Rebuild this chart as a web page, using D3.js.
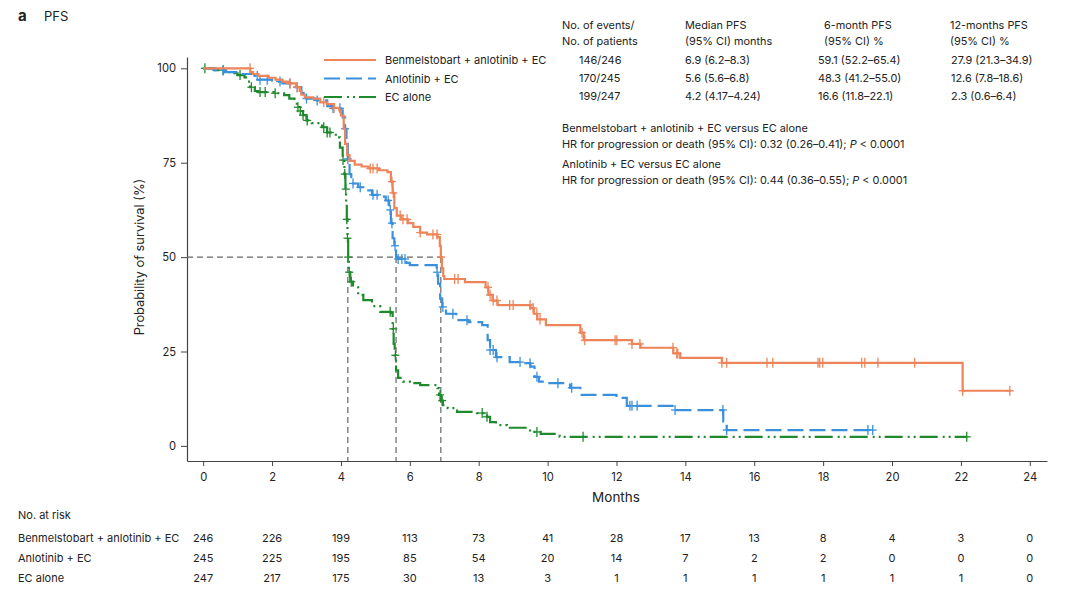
<!DOCTYPE html>
<html lang="en">
<head>
<meta charset="UTF-8">
<title>PFS</title>
<script src="https://d3js.org/d3.v7.min.js"></script>
<style>
  body { margin: 0; background: #fff; }
  text { font-family: "Inter", "Noto Sans", sans-serif; fill: #222; }
</style>
</head>
<body>
<script>
// ---- data ----
const groups = ["Benmelstobart + anlotinib + EC", "Anlotinib + EC", "EC alone"];
const colors = ["#EE8459", "#3A90DC", "#1F8A2C"];

// step points [month, survival %]
const stepsBena = [[0,100],[1.37,99],[1.45,98.5],[1.6,98],[1.9,97.5],[2.1,97],[2.3,96.5],[2.5,96],[2.7,95],
  [2.8,94],[2.85,93],[2.95,92.3],[3.2,92],[3.4,91],[3.6,90.5],[3.8,89.5],[3.95,88.9],[4.0,87.5],[4.08,84],
  [4.12,80],[4.18,77],[4.25,75.5],[4.4,74.5],[4.6,74],[4.8,73.5],[5.1,73],[5.35,72.5],[5.45,70],[5.5,67],
  [5.55,63],[5.62,61],[5.75,60],[5.95,59],[6.1,58],[6.3,56.5],[6.5,56],[6.8,55.3],[6.87,53],[6.9,50],
  [6.93,47],[6.97,45],[7.0,44.2],[7.6,43.4],[8.2,42],[8.28,40],[8.4,38.5],[8.55,37.3],[9.5,36.5],[9.6,35],
  [9.7,33.5],[9.95,32],[10.95,30],[11.05,28],[12.45,27],[12.7,26],[13.65,24.5],[13.85,23.3],[15.06,22],
  [22.05,14.6],[23.45,14.6]];
const stepsAnlo = [[0,100],[0.3,99.5],[0.6,99],[1.0,98.5],[1.5,98],[1.6,97],[2.0,96.5],[2.3,96],[2.6,95],
  [2.85,93.5],[2.95,92],[3.3,91.5],[3.6,90],[3.75,89.4],[4.0,88.9],[4.05,87],[4.12,84],[4.16,80],[4.2,76],
  [4.25,72],[4.3,69.5],[4.5,68.5],[4.7,67.7],[4.9,66.5],[5.1,66],[5.3,65],[5.4,62.5],[5.45,59],[5.5,55],
  [5.55,53],[5.6,50],[5.65,49.5],[5.9,48.5],[6.0,47.9],[6.78,46],[6.82,43],[6.88,39],[6.94,36.8],[7.05,35],
  [7.35,33.3],[7.7,32.8],[8.1,32],[8.26,28],[8.33,25.4],[8.5,23.5],[8.9,22.2],[9.3,21.9],[9.5,21],
  [9.62,18.3],[9.75,17],[10.0,16.6],[10.65,15.4],[10.95,13.5],[12.0,12.7],[12.3,10.6],[13.7,9.5],
  [15.1,6.5],[15.2,4.2],[19.45,4.2]];
const stepsEC = [[0,100],[0.35,99.5],[0.6,99],[0.8,98.7],[1.0,98.2],[1.2,97.6],[1.3,96.5],[1.36,95],
  [1.5,94],[1.6,93.7],[2.05,93.4],[2.35,92.9],[2.5,92],[2.65,91],[2.72,89.7],[2.8,88.7],[2.9,87.6],
  [3.0,86.2],[3.15,85.5],[3.45,84.4],[3.6,83],[3.85,81.7],[3.97,79],[4.05,75.7],[4.1,72],[4.13,68],
  [4.15,64],[4.17,60],[4.19,55],[4.21,50],[4.23,46],[4.27,43.5],[4.35,42],[4.5,40],[4.65,38.6],[4.9,37],
  [5.14,35.5],[5.45,35.2],[5.5,31],[5.53,27],[5.56,24],[5.6,20],[5.66,18],[5.8,17],[6.0,16.6],[6.3,16.1],
  [6.8,15.3],[6.85,13.5],[6.9,12],[6.96,10.8],[7.1,10],[7.37,9],[7.95,8.7],[8.24,7.7],[8.33,6.3],
  [8.5,5.5],[8.82,4.8],[9.49,3.7],[9.8,3.2],[10.35,2.4],[22.17,2.4]];

// censoring times (months)
const censBena = [1.36,2.52,2.73,3.5,3.8,4.85,4.93,5.05,5.48,5.52,5.72,5.8,5.92,6.3,6.67,6.79,6.91,7.3,7.4,
  8.27,8.33,8.42,8.53,8.9,9.0,9.49,9.58,9.69,9.78,11.0,11.08,11.96,12.01,12.45,12.68,13.64,13.75,13.78,
  15.06,15.2,16.37,16.54,17.85,17.9,17.99,19.12,19.21,19.59,20.66,22.05,23.42];
const censAnlo = [0.58,1.57,1.65,1.86,2.23,2.52,2.73,3.0,3.31,3.77,3.97,4.12,4.2,4.35,4.56,4.93,5.05,5.37,
  5.43,5.48,5.57,5.66,5.77,5.86,6.79,6.96,7.25,7.66,8.33,8.42,8.53,9.2,9.49,9.69,10.3,10.7,12.39,12.45,
  12.6,13.7,15.09,15.2,19.3,19.44];
const censEC = [0.05,0.58,1.07,1.4,1.65,1.8,2.09,2.75,2.82,2.9,3.02,3.5,3.6,3.68,4.06,4.11,4.14,4.17,4.19,
  4.21,4.24,4.3,5.43,5.52,5.58,6.88,6.94,8.1,8.24,9.69,11.03,22.17];

const medians = [6.9, 5.6, 4.2];

const xTicks = [0,2,4,6,8,10,12,14,16,18,20,22,24];
const yTicks = [0,25,50,75,100];

const riskTimes = [0,2,4,6,8,10,12,14,16,18,20,22,24];
const riskBena = [246,226,199,113,73,41,28,17,13,8,4,3,0];
const riskAnlo = [245,225,195,85,54,20,14,7,2,2,0,0,0];
const riskEC   = [247,217,175,30,13,3,1,1,1,1,1,1,0];

const tableHead = [["No. of events/","No. of patients"],["Median PFS","(95% CI) months"],
  ["6-month PFS","(95% CI) %"],["12-months PFS","(95% CI) %"]];
const tableRows = [
  ["146/246","6.9 (6.2–8.3)","59.1 (52.2–65.4)","27.9 (21.3–34.9)"],
  ["170/245","5.6 (5.6–6.8)","48.3 (41.2–55.0)","12.6 (7.8–18.6)"],
  ["199/247","4.2 (4.17–4.24)","16.6 (11.8–22.1)","2.3 (0.6–6.4)"]];
const hrLines = [
  ["Benmelstobart + anlotinib + EC versus EC alone","HR for progression or death (95% CI): 0.32 (0.26–0.41); "],
  ["Anlotinib + EC versus EC alone","HR for progression or death (95% CI): 0.44 (0.36–0.55); "]];

// ---- drawing ----
const width = 1080, height = 599;
const svg = d3.select("body").append("svg").attr("width", width).attr("height", height);

const x = d3.scaleLinear().domain([-0.47, 24.5]).range([187, 1047]);
const y = d3.scaleLinear().domain([-4, 103]).range([461, 57]);

svg.append("text").attr("x", 18).attr("y", 21).style("font-size", "15px").style("font-weight", "bold").text("a");
svg.append("text").attr("x", 44).attr("y", 21).style("font-size", "13px").text("PFS");

// axes
const xAxis = svg.append("g").attr("transform", "translate(0,461)")
  .call(d3.axisBottom(x).tickValues(xTicks).tickSize(5).tickSizeOuter(0));
const yAxis = svg.append("g").attr("transform", "translate(187,0)")
  .call(d3.axisLeft(y).tickValues(yTicks).tickSize(6).tickSizeOuter(0));
[xAxis, yAxis].forEach(g => {
  g.select(".domain").attr("stroke", "#444").attr("stroke-width", 1.2);
  g.selectAll(".tick line").attr("stroke", "#444");
  g.selectAll(".tick text").style("font-size", "11.2px").attr("fill", "#333")
    .style("font-family", "Inter, 'Noto Sans', sans-serif");
});
xAxis.selectAll(".tick text").attr("dy", "1.1em");
yAxis.selectAll(".tick text").attr("dx", "-2");

svg.append("text").attr("x", 616).attr("y", 502).attr("text-anchor", "middle")
  .style("font-size", "13.5px").text("Months");
svg.append("text").attr("transform", `translate(144,${y(50)}) rotate(-90)`).attr("text-anchor", "middle")
  .style("font-size", "12.8px").text("Probability of survival (%)");

// median guide lines
const guide = svg.append("g").attr("stroke", "#666").attr("stroke-width", 1.2)
  .attr("stroke-dasharray", "6,4").attr("fill", "none");
guide.append("line").attr("x1", 187).attr("x2", x(d3.max(medians))).attr("y1", y(50)).attr("y2", y(50));
medians.forEach(m => guide.append("line").attr("x1", x(m)).attr("x2", x(m)).attr("y1", y(50)).attr("y2", 461));

// curves
const dashes = [null, "16,6", "18,5,2,4,2,4"];
const stepLine = d3.line().x(d => x(d[0])).y(d => y(d[1])).curve(d3.curveStepAfter);
const allSteps = [stepsBena, stepsAnlo, stepsEC];
const allCens = [censBena, censAnlo, censEC];

function survAt(steps, t) {
  let s = steps[0][1];
  for (const p of steps) { if (p[0] <= t) s = p[1]; else break; }
  return s;
}

[2, 1, 0].forEach(i => {
  svg.append("path").datum(allSteps[i])
    .attr("fill", "none").attr("stroke", colors[i]).attr("stroke-width", 2.2)
    .attr("stroke-dasharray", dashes[i]).attr("d", stepLine);
  const g = svg.append("g").attr("stroke", colors[i]).attr("stroke-width", 1.3);
  allCens[i].forEach(t => {
    const cx = x(t), cy = y(survAt(allSteps[i], t));
    g.append("line").attr("x1", cx).attr("x2", cx).attr("y1", cy - 5).attr("y2", cy + 5);
    g.append("line").attr("x1", cx - 4).attr("x2", cx + 4).attr("y1", cy).attr("y2", cy);
  });
});

// legend
const legend = svg.append("g");
groups.forEach((name, i) => {
  const ly = 60 + i * 18.5;
  legend.append("line").attr("x1", 324).attr("x2", 376).attr("y1", ly).attr("y2", ly)
    .attr("stroke", colors[i]).attr("stroke-width", 2.2).attr("stroke-dasharray", dashes[i]);
  legend.append("text").attr("x", 385).attr("y", ly + 4).style("font-size", "11px").text(name);
});

// summary table
const colX = [562, 685, 818, 950];
const tbl = svg.append("g").style("font-size", "10.9px");
tableHead.forEach((h, c) => {
  const dx = c === 2 ? 6 : 0;
  tbl.append("text").attr("x", colX[c] + dx).attr("y", 29).text(h[0]);
  tbl.append("text").attr("x", colX[c] + dx).attr("y", 45).text(h[1]);
});
tableRows.forEach((row, r) => {
  row.forEach((v, c) => {
    const dx = c === 0 ? 17 : (c === 3 ? 1 : 0);
    tbl.append("text").attr("x", colX[c] + dx).attr("y", 64 + r * 18).text(v);
  });
});
hrLines.forEach((hl, k) => {
  const by = 132 + k * 36;
  tbl.append("text").attr("x", 562).attr("y", by).text(hl[0]);
  const t = tbl.append("text").attr("x", 562).attr("y", by + 16).text(hl[1]);
  t.append("tspan").style("font-style", "italic").text("P");
  t.append("tspan").text(" < 0.0001");
});

// number at risk
const risk = svg.append("g").style("font-size", "11px");
risk.append("text").attr("x", 18).attr("y", 519).text("No. at risk");
[riskBena, riskAnlo, riskEC].forEach((vals, i) => {
  const ry = 542 + i * 20;
  risk.append("text").attr("x", 18).attr("y", ry).text(groups[i]);
  vals.forEach((v, j) => {
    risk.append("text").attr("x", x(riskTimes[j])).attr("y", ry).attr("text-anchor", "middle").text(v);
  });
});
</script>
</body>
</html>
